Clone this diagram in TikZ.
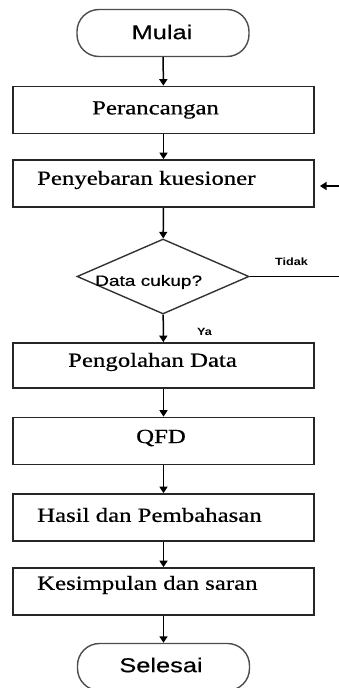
\documentclass[tikz,border=0pt]{standalone}
\usepackage{fontspec}
\usetikzlibrary{arrows.meta,shapes.geometric}
\newfontfamily\boxfont[FakeStretch=1.24,FakeBold=0.6]{Liberation Serif}
\newfontfamily\termfont[FakeStretch=1.27,FakeBold=0.5]{Liberation Sans}
\newfontfamily\smallfont[FakeStretch=1.2]{Liberation Sans Bold}
\begin{document}
\begin{tikzpicture}[x=1pt,y=-1pt,
  stepbox/.style={draw=black!85,line width=1.7pt,minimum width=301pt,minimum height=47pt,inner sep=0pt},
  term/.style={draw=black!70,line width=1.4pt,rounded corners=22pt,minimum width=172pt,minimum height=47pt,inner sep=0pt},
  txt/.style={anchor=west,inner sep=0pt,font=\boxfont\fontsize{20}{22}\selectfont},
  ttxt/.style={inner sep=0pt,font=\termfont\fontsize{20}{22}\selectfont},
  small/.style={inner sep=0pt,font=\smallfont\fontsize{10.5}{12}\selectfont},
  arr/.style={-{Triangle[width=8pt,length=6.5pt]},line width=1.5pt}]
\useasboundingbox (0,0) rectangle (338,688);
% terminals
\node[term] (mulai) at (163,33) {};
\node[ttxt] (tmulai) at (162,32) {Mulai};
% boxes
\node[stepbox] (per) at (163.5,110) {};
\node[txt] (tper) at (92,110) {Perancangan};
\node[stepbox] (pen) at (163.5,183.5) {};
\node[txt] (tpen) at (37,180) {Penyebaran kuesioner};
\node[draw=black!80,line width=1.4pt,shape=diamond,aspect=2.29,minimum width=172pt,minimum height=75pt,inner sep=0pt] (dec) at (163,276.5) {};
\node[inner sep=0pt,font=\termfont\fontsize{15}{17}\selectfont,anchor=west] (tdec) at (95,282) {Data cukup?};
\node[stepbox,minimum height=45pt] (olah) at (163.5,365.5) {};
\node[txt] (tolah) at (68,362) {Pengolahan Data};
\node[stepbox] (qfd) at (163.5,441) {};
\node[txt] (tqfd) at (136,438) {QFD};
\node[stepbox] (hasil) at (163.5,517.5) {};
\node[txt] (thasil) at (37,515) {Hasil dan Pembahasan};
\node[stepbox] (kes) at (163.5,591.5) {};
\node[txt] (tkes) at (37,585) {Kesimpulan dan saran};
\node[term] (sel) at (163.5,667) {};
\node[ttxt] (tsel) at (161,665) {Selesai};
% labels
\node[small,anchor=west] (ltidak) at (275,262) {Tidak};
\node[small,anchor=west] (lya) at (197,332) {Ya};
% connectors
\draw[arr] (mulai) -- (per);
\draw[arr] (per) -- (pen);
\draw[arr] (pen) -- (dec);
\draw[arr] (dec) -- (olah);
\draw[arr] (olah) -- (qfd);
\draw[arr] (qfd) -- (hasil);
\draw[arr] (hasil) -- (kes);
\draw[arr] (kes) -- (sel);
\coordinate (rt) at (340,276.5);
\coordinate (rb) at (340,186);
\coordinate (rbend) at (320,186);
\draw[line width=1.4pt] (dec.east) -- (rt);
\draw[arr] (rb) -- (rbend);
\end{tikzpicture}
\end{document}
